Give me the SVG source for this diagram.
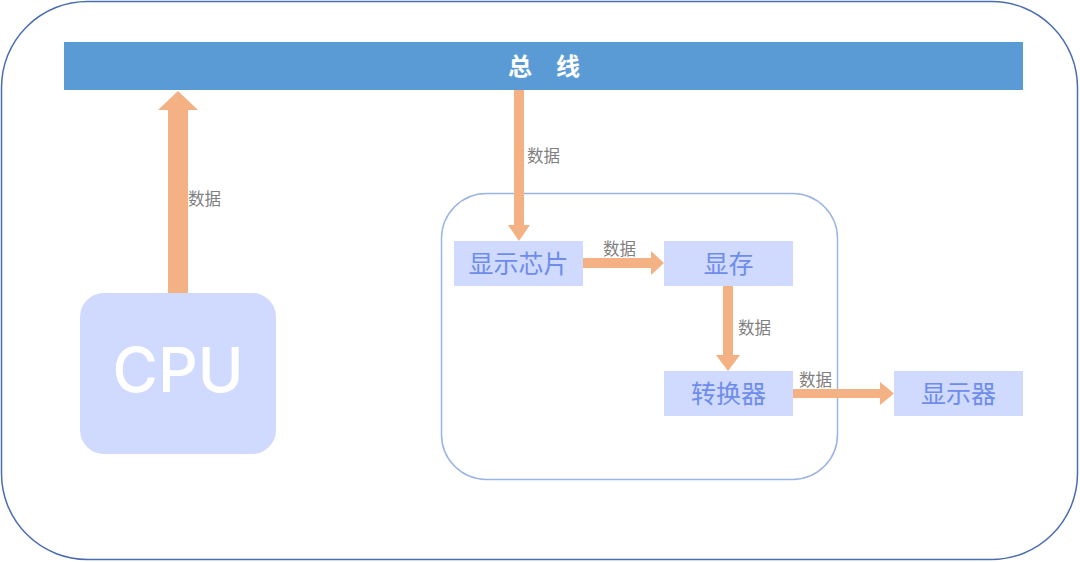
<svg xmlns="http://www.w3.org/2000/svg" width="1080" height="562" viewBox="0 0 1080 562">
<style>
.cjk{font-family:"Noto Sans CJK SC","Noto Sans",sans-serif}
.box{fill:#CFDAFE}
.boxt{fill:#6E8CEB;font-size:25px;text-anchor:middle}
.lbl{fill:#7F7F7F;font-size:16.5px}
.arr{fill:#F4B183}
</style>
<rect x="0" y="0" width="1080" height="562" fill="#FFFFFF"/>
<rect x="1.5" y="1.5" width="1076" height="558" rx="86" ry="86" fill="none" stroke="#4A6CB0" stroke-width="1.5"/>
<g id="bus">
<rect x="64" y="42" width="959" height="48" fill="#5B9BD5"/>
<text x="544" y="75" class="cjk" font-size="24" font-weight="bold" fill="#FFFFFF" text-anchor="middle">总　线</text>
</g>
<g id="gpu-group">
<rect x="441.5" y="193.5" width="396" height="286" rx="45" ry="45" fill="none" stroke="#9AB4E6" stroke-width="1.5"/>
</g>
<g id="cpu">
<rect x="80" y="293" width="196" height="161" rx="24" ry="24" class="box"/>
<text x="178" y="392" font-family="Inter,Roboto,'Liberation Sans',sans-serif" font-size="62" font-weight="500" fill="#FFFFFF" text-anchor="middle">CPU</text>
</g>
<g id="chip">
<rect x="454" y="241" width="129" height="45" class="box"/>
<text x="518.5" y="272.5" class="cjk boxt">显示芯片</text>
</g>
<g id="vram">
<rect x="664" y="241" width="129" height="45" class="box"/>
<text x="728.5" y="272.5" class="cjk boxt">显存</text>
</g>
<g id="converter">
<rect x="664" y="371" width="129" height="45" class="box"/>
<text x="728.5" y="402.5" class="cjk boxt">转换器</text>
</g>
<g id="display">
<rect x="894" y="371" width="129" height="45" class="box"/>
<text x="958.5" y="402.5" class="cjk boxt">显示器</text>
</g>
<g id="connectors">
<polygon class="arr" points="168,293 168,110 158,110 178,91 198,110 188,110 188,293"/>
<polygon class="arr" points="514,90 524,90 524,225 530,225 519,241 508,225 514,225"/>
<polygon class="arr" points="583,258 651,258 651,251 664,263 651,275 651,268 583,268"/>
<polygon class="arr" points="723,286 733,286 733,355 740,355 728,371 716,355 723,355"/>
<polygon class="arr" points="793,389 880,389 880,382 894,393.5 880,405 880,398 793,398"/>
<text x="188" y="205" class="cjk lbl">数据</text>
<text x="527" y="162" class="cjk lbl">数据</text>
<text x="603" y="255" class="cjk lbl">数据</text>
<text x="738" y="334" class="cjk lbl">数据</text>
<text x="799" y="386" class="cjk lbl">数据</text>
</g>
</svg>
